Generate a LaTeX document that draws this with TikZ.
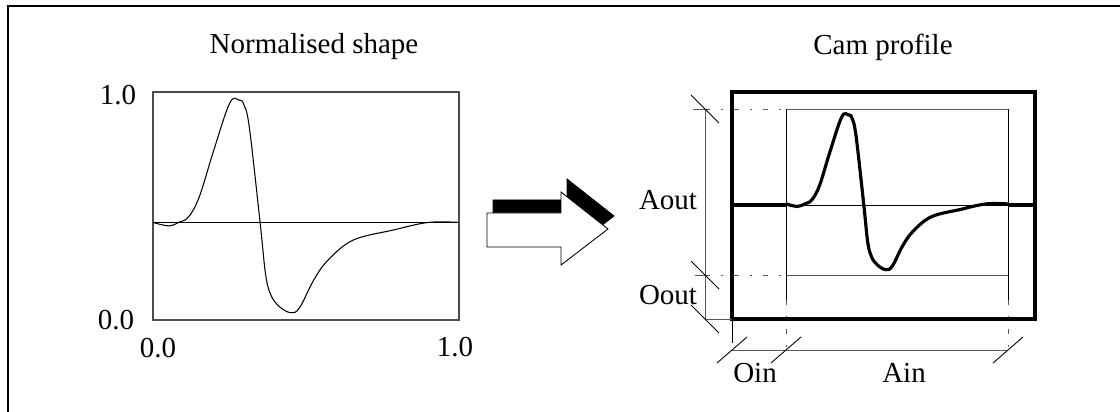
\documentclass[tikz,border=0pt]{standalone}
\usepackage{fontspec}
\setmainfont{Liberation Serif}
\usetikzlibrary{arrows.meta,calc}

% normalised shape, x and y from 0 to 1
\newcommand{\shapecurve}{plot[smooth,tension=0.6] coordinates {(0,0.428) (0.052,0.413) (0.087,0.430) (0.116,0.452) (0.151,0.539) (0.198,0.742) (0.251,0.952) (0.282,0.964) (0.297,0.945) (0.315,0.843) (0.350,0.428) (0.368,0.200) (0.385,0.110) (0.412,0.060) (0.450,0.032) (0.479,0.054) (0.526,0.177) (0.573,0.264) (0.655,0.351) (0.783,0.394) (0.900,0.428) (1,0.428)}}

\tikzset{
  dimline/.style={gray!70!black,line width=0.5pt},
  extline/.style={dimline,dash pattern=on 3pt off 6pt on 1.5pt off 6pt},
  dimtick/.style={black,line width=0.5pt},
}

\begin{document}
\begin{tikzpicture}[x=0.02cm,y=-0.02cm,>=Stealth,every node/.style={font=\fontsize{16.5}{18}\selectfont}]
		\useasboundingbox (0,0) rectangle (1120,412);
		\def\mid{205}
		
		% frame
		\draw[line width=1.2pt] (8,420) -- (8,6) -- (1130,6);
		
		%left plot
		\coordinate (L0) at (153,320);
		\coordinate (L1) at (459,92);
		\draw[gray!60!black,line width=0.6pt] (L0) rectangle (L1);
		\draw[line width=0.5pt] (153,222) -- (459,222);
		\begin{scope}[shift={(L0)},xscale=306,yscale=-228]
			\draw[line width=0.6pt] \shapecurve;
		\end{scope}
		\node (normtitle) at (314,47) {Normalised shape};
		\node (ytop) at (118,95) {1.0};
		\node (ybot) at (116,320) {0.0};
		\node (xleft) at (158,348) {0.0};
		\node (xright) at (455,347) {1.0};
		
		% arrow with black shadow
		\foreach \dx/\dy/\col in {6/-13/black,0/0/white}
			\filldraw[fill=\col,line width=0.5pt,shift={(\dx,\dy)}] (487,213) -- (561,213) -- (561,192) -- (608,229) -- (561,265) -- (561,247) -- (487,247) -- cycle;
		
		%right plot
		\coordinate (R0) at (786,275);
		\coordinate (R1) at (1008,109);
		\draw[gray!70!black,line width=0.5pt] (786,109) -- (1008,109) (786,275) -- (1008,275);
		\draw[line width=0.5pt] (786,109) -- (786,300) (1008,109) -- (1008,300) (786,\mid) -- (1008,\mid);
		\draw[extline] (705,109) -- (786,109) (705,275) -- (786,275);
		\draw[dimline] (693,109) -- (705,109) (695,275) -- (705,275);
		\draw[extline] (786,300) -- (786,357) (1008,300) -- (1008,357);
		\begin{scope}[shift={(R0)},xscale=222,yscale=-166]
			\draw[line width=1.8pt] \shapecurve;
		\end{scope}
		\draw[line width=2.2pt] (732,92) rectangle (1035,319);
		\draw[line width=1.8pt] (732,\mid) -- (786,\mid) (1008,\mid) -- (1035,\mid);
		
		% dimensions
		\draw[dimline] (705,109) -- (705,319) -- (732,319);
		\draw[line width=0.5pt] (732,321) -- (732,343);
		\draw[dimline] (732,350) -- (1008,350);
		\foreach \px/\py in {705/109,705/275,705/319}
			\draw[dimtick] (\px-14,\py-14) -- (\px+14,\py+14);
		\foreach \px/\py in {732/350,786/350,1008/350}
			\draw[dimtick] (\px-15,\py+13) -- (\px+15,\py-13);
		\node (camtitle) at (883,47) {Cam profile};
		\node (aout) at (668,200) {Aout};
		\node (oout) at (668,295) {Oout};
		\node (oin) at (755,373) {Oin};
		\node (ain) at (904,373) {Ain};
	\end{tikzpicture}
\end{document}
